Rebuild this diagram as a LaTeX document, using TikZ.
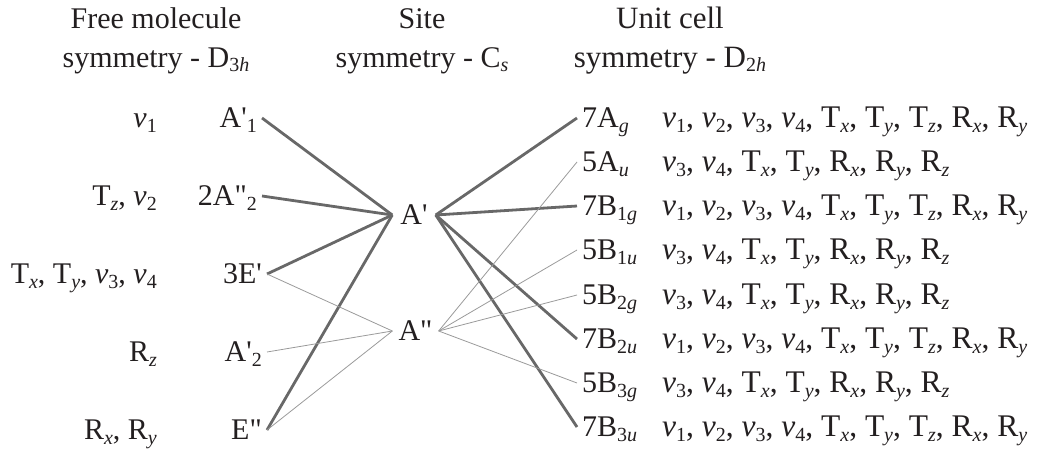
\documentclass[tikz,border=0pt]{standalone}
\usepackage{fontspec}
\setmainfont{Liberation Serif}[Ligatures=TeXOff]
\usetikzlibrary{positioning}

\definecolor{ink}{HTML}{231F20}
\definecolor{strongline}{HTML}{686868}
\definecolor{weakline}{HTML}{9A9A9A}

% subscripts as set in the original (upright digits, italic letters)
\newcommand{\sbs}[1]{\raisebox{-4.5pt}{\fontsize{20}{20}\selectfont #1}}
\newcommand{\sbi}[1]{\sbs{\itshape #1}}
\newcommand{\vv}[1]{\textit{v}\sbs{#1}}
\newcommand{\allmodes}{\vv{1}, \vv{2}, \vv{3}, \vv{4}, T\sbi{x}, T\sbi{y}, T\sbi{z}, R\sbi{x}, R\sbi{y}}
\newcommand{\somemodes}{\vv{3}, \vv{4}, T\sbi{x}, T\sbi{y}, R\sbi{x}, R\sbi{y}, R\sbi{z}}

\begin{document}
\begin{tikzpicture}[
  x=1pt, y=-1pt,
  every node/.style={text=ink, font=\fontsize{30}{39}\selectfont},
  head/.style={align=center, inner sep=0pt},
  lbl/.style={inner ysep=0pt, inner xsep=0pt, text height=20pt, text depth=0.2pt},
  symbox/.style={lbl, inner xsep=5pt},
  modes/.style={lbl, anchor=west, font=\fontsize{31.5}{39}\selectfont},
  strong/.style={draw=strongline, line width=2.8pt},
  weak/.style={draw=weakline, line width=0.8pt}
]
\useasboundingbox (0,0) rectangle (1038,452);

% Column headings
\node[head, anchor=base] (hfree) at (156,67) {Free molecule\\symmetry - D\sbs{3\textit{h}}};
\node[head, anchor=base] (hsite) at (422,67) {Site\\symmetry - C\sbi{s}};
\node[head, anchor=base, font=\fontsize{31}{39}\selectfont] (hcell) at (670,67) {Unit cell\\symmetry - D\sbs{2\textit{h}}};

% Free molecule species (D3h)
\node[symbox, anchor=east] (fA1) at (262,118) {A'\sbs{1}};
\node[symbox, anchor=east] (fA2) at (262,196) {2A"\sbs{2}};
\node[symbox, anchor=east] (fE1) at (267,274) {3E'};
\node[symbox, anchor=east] (fA3) at (267,352) {A'\sbs{2}};
\node[symbox, anchor=east] (fE2) at (267,430) {E"};

\node[lbl, anchor=east] (mA1) at (157,118) {\vv{1}};
\node[lbl, anchor=east] (mA2) at (157,196) {T\sbi{z}, \vv{2}};
\node[lbl, anchor=east] (mE1) at (157,274) {T\sbi{x}, T\sbi{y}, \vv{3}, \vv{4}};
\node[lbl, anchor=east] (mA3) at (157,352) {R\sbi{z}};
\node[lbl, anchor=east] (mE2) at (157,430) {R\sbi{x}, R\sbi{y}};

% Site species (Cs)
\node[lbl, inner xsep=8pt] (sA1) at (414,215) {A'};
\node[lbl, inner xsep=6pt] (sA2) at (415.5,331) {A"};

% Unit cell species (D2h)
\node[symbox, anchor=west] (cAg)  at (577,118) {7A\sbi{g}};
\node[symbox, anchor=west] (cAu)  at (577,162) {5A\sbi{u}};
\node[symbox, anchor=west] (cB1g) at (577,206) {7B\sbs{1\textit{g}}};
\node[symbox, anchor=west] (cB1u) at (577,250) {5B\sbs{1\textit{u}}};
\node[symbox, anchor=west] (cB2g) at (577,295) {5B\sbs{2\textit{g}}};
\node[symbox, anchor=west] (cB2u) at (577,339) {7B\sbs{2\textit{u}}};
\node[symbox, anchor=west] (cB3g) at (577,383) {5B\sbs{3\textit{g}}};
\node[symbox, anchor=west] (cB3u) at (577,427) {7B\sbs{3\textit{u}}};

\node[modes] (nAg)  at (662,118) {\allmodes};
\node[modes] (nAu)  at (662,162) {\somemodes};
\node[modes] (nB1g) at (662,206) {\allmodes};
\node[modes] (nB1u) at (662,250) {\somemodes};
\node[modes] (nB2g) at (662,295) {\somemodes};
\node[modes] (nB2u) at (662,339) {\allmodes};
\node[modes] (nB3g) at (662,383) {\somemodes};
\node[modes] (nB3u) at (662,427) {\allmodes};

% Correlation lines to A'
\draw[strong] (fA1.east) -- (sA1.west);
\draw[strong] (fA2.east) -- (sA1.west);
\draw[strong] (fE1.east) -- (sA1.west);
\draw[strong] (fE2.east) -- (sA1.west);
\draw[strong] (sA1.east) -- (cAg.west);
\draw[strong] (sA1.east) -- (cB1g.west);
\draw[strong] (sA1.east) -- (cB2u.west);
\draw[strong] (sA1.east) -- (cB3u.west);

% Correlation lines to A''
\draw[weak] (fE1.east) -- (sA2.west);
\draw[weak] (fA3.east) -- (sA2.west);
\draw[weak] (fE2.east) -- (sA2.west);
\draw[weak] (sA2.east) -- (cAu.west);
\draw[weak] (sA2.east) -- (cB1u.west);
\draw[weak] (sA2.east) -- (cB2g.west);
\draw[weak] (sA2.east) -- (cB3g.west);

\end{tikzpicture}
\end{document}
